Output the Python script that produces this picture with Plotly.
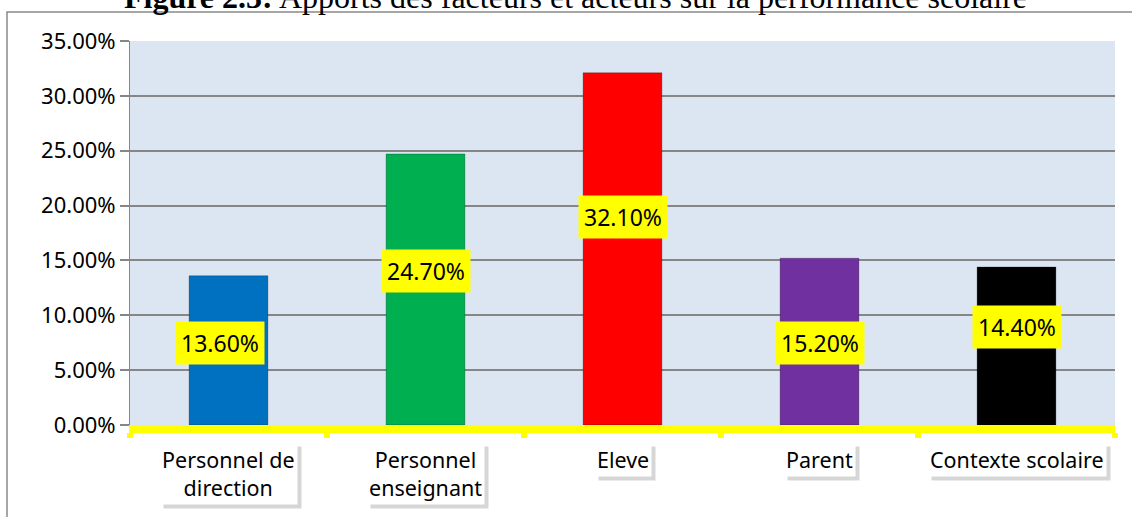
import plotly.graph_objects as go

categories = ["Personnel de<br>direction", "Personnel<br>enseignant", "Eleve", "Parent", "Contexte scolaire"]
values = [0.136, 0.247, 0.321, 0.152, 0.144]
value_labels = ["13.60%", "24.70%", "32.10%", "15.20%", "14.40%"]
title_text = "<b>Figure 2.3:</b> Apports des facteurs et acteurs sur la performance scolaire"

# style
bar_colors = ["#0070C0", "#00B050", "#FF0000", "#7030A0", "#000000"]
label_y_frac = [0.549, 0.568, 0.592, 0.492, 0.620]
label_xshift = [-9, 0, 0, 0, 0]

W, H = 1132, 517
L, R, T, B = 130, 17, 41, 92
pw, ph = W - L - R, H - T - B

fig = go.Figure()
fig.add_trace(go.Bar(
    x=categories, y=values, width=0.4,
    marker=dict(color=bar_colors, line=dict(color="rgba(0,0,0,0.25)", width=1)),
    hoverinfo="skip",
))

ann = []
# data labels
for c, v, t, f, xs in zip(categories, values, value_labels, label_y_frac, label_xshift):
    ann.append(dict(x=c, y=v * f, xref="x", yref="y", text=t, showarrow=False,
                    xshift=xs, bgcolor="#FFFF00", borderpad=5,
                    font=dict(family="Noto Sans", size=23, color="black")))
# category labels (shadow + box)
for c in categories:
    ann.append(dict(x=c, y=0, xref="x", yref="paper", text=c, showarrow=False,
                    yanchor="top", yshift=-21, xshift=4, bgcolor="rgba(0,0,0,0.16)",
                    borderpad=2, font=dict(family="Noto Sans", size=21.5, color="rgba(0,0,0,0)")))
    ann.append(dict(x=c, y=0, xref="x", yref="paper", text=c, showarrow=False,
                    yanchor="top", yshift=-17, bgcolor="white",
                    borderpad=2, font=dict(family="Noto Sans", size=21.5, color="black")))
# title (cropped at top as in reference)
ann.append(dict(x=(575 - L) / pw, y=(H - B - 16) / ph, xref="paper", yref="paper",
                text=title_text, showarrow=False, xanchor="center", yanchor="bottom",
                borderpad=0,
                font=dict(family="Liberation Serif", size=32, color="black")))

fig.update_layout(
    width=W, height=H,
    margin=dict(l=L, r=R, t=T, b=B),
    paper_bgcolor="white",
    plot_bgcolor="#DCE6F2",
    showlegend=False,
    bargap=0.6,
    annotations=ann,
    shapes=[dict(type="rect", xref="paper", yref="paper",
                 x0=(7 - L) / pw, x1=1.1, y0=-0.5, y1=(H - B - 12) / ph,
                 line=dict(color="#898989", width=1.5), layer="below")],
)
fig.update_yaxes(
    range=[0, 0.35], dtick=0.05, tickformat=".2%",
    showgrid=True, gridcolor="#868686", gridwidth=2,
    showline=True, linecolor="#868686", linewidth=1,
    ticks="outside", ticklen=9, tickcolor="#868686", tickwidth=2,
    tickfont=dict(family="Noto Sans", size=22, color="black"),
    zeroline=False, fixedrange=True,
)
fig.update_xaxes(
    showticklabels=False,
    showline=True, linecolor="#FFFF00", linewidth=8,
    ticks="outside", tickson="boundaries", ticklen=5, tickcolor="#FFFF00", tickwidth=6,
    showgrid=False, fixedrange=True,
)

fig.write_html("out.html", config={"displayModeBar": False},
               post_script="document.body.style.margin='0';")
